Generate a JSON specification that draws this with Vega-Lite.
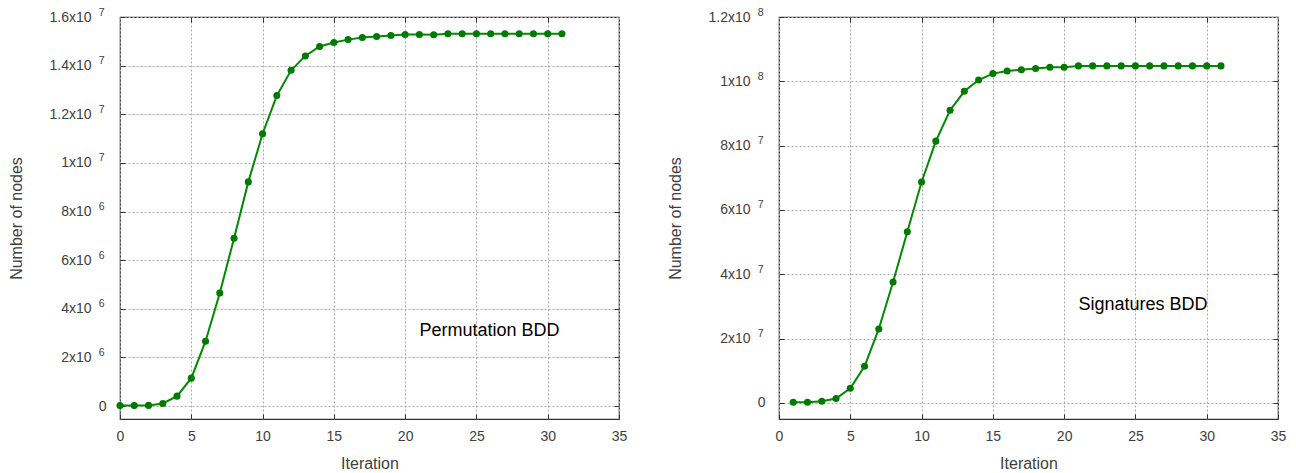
{
  "$schema": "https://vega.github.io/schema/vega-lite/v6.json",
  "padding": {"left": 8, "top": 6, "right": 0, "bottom": 0},
  "autosize": {"type": "pad"},
  "background": "white",
  "spacing": 39,
  "datasets": {
    "perm": [
      {"iteration": 0, "nodes": 20000},
      {"iteration": 1, "nodes": 20000},
      {"iteration": 2, "nodes": 30000},
      {"iteration": 3, "nodes": 110000},
      {"iteration": 4, "nodes": 410000},
      {"iteration": 5, "nodes": 1150000},
      {"iteration": 6, "nodes": 2670000},
      {"iteration": 7, "nodes": 4650000},
      {"iteration": 8, "nodes": 6900000},
      {"iteration": 9, "nodes": 9220000},
      {"iteration": 10, "nodes": 11200000},
      {"iteration": 11, "nodes": 12770000},
      {"iteration": 12, "nodes": 13810000},
      {"iteration": 13, "nodes": 14400000},
      {"iteration": 14, "nodes": 14790000},
      {"iteration": 15, "nodes": 14950000},
      {"iteration": 16, "nodes": 15070000},
      {"iteration": 17, "nodes": 15160000},
      {"iteration": 18, "nodes": 15200000},
      {"iteration": 19, "nodes": 15240000},
      {"iteration": 20, "nodes": 15280000},
      {"iteration": 21, "nodes": 15280000},
      {"iteration": 22, "nodes": 15270000},
      {"iteration": 23, "nodes": 15310000},
      {"iteration": 24, "nodes": 15310000},
      {"iteration": 25, "nodes": 15310000},
      {"iteration": 26, "nodes": 15310000},
      {"iteration": 27, "nodes": 15310000},
      {"iteration": 28, "nodes": 15310000},
      {"iteration": 29, "nodes": 15310000},
      {"iteration": 30, "nodes": 15310000},
      {"iteration": 31, "nodes": 15310000}
    ],
    "sig": [
      {"iteration": 1, "nodes": 200000},
      {"iteration": 2, "nodes": 200000},
      {"iteration": 3, "nodes": 530000},
      {"iteration": 4, "nodes": 1370000},
      {"iteration": 5, "nodes": 4570000},
      {"iteration": 6, "nodes": 11400000},
      {"iteration": 7, "nodes": 23000000},
      {"iteration": 8, "nodes": 37600000},
      {"iteration": 9, "nodes": 53200000},
      {"iteration": 10, "nodes": 68700000},
      {"iteration": 11, "nodes": 81400000},
      {"iteration": 12, "nodes": 91000000},
      {"iteration": 13, "nodes": 96900000},
      {"iteration": 14, "nodes": 100400000},
      {"iteration": 15, "nodes": 102400000},
      {"iteration": 16, "nodes": 103200000},
      {"iteration": 17, "nodes": 103600000},
      {"iteration": 18, "nodes": 104000000},
      {"iteration": 19, "nodes": 104400000},
      {"iteration": 20, "nodes": 104400000},
      {"iteration": 21, "nodes": 104800000},
      {"iteration": 22, "nodes": 104800000},
      {"iteration": 23, "nodes": 104800000},
      {"iteration": 24, "nodes": 104800000},
      {"iteration": 25, "nodes": 104800000},
      {"iteration": 26, "nodes": 104800000},
      {"iteration": 27, "nodes": 104800000},
      {"iteration": 28, "nodes": 104800000},
      {"iteration": 29, "nodes": 104800000},
      {"iteration": 30, "nodes": 104800000},
      {"iteration": 31, "nodes": 104800000}
    ],
    "permLabel": [{"label": "Permutation BDD", "iteration": 21, "nodes": 3100000}],
    "sigLabel": [{"label": "Signatures BDD", "iteration": 21, "nodes": 30500000}]
  },
  "hconcat": [
    {
      "width": 499,
      "height": 402,
      "resolve": {"axis": {"x": "independent", "y": "independent"}},
      "layer": [
        {
          "data": {"name": "perm"},
          "mark": {"type": "line", "color": "#008a00", "strokeWidth": 2},
          "encoding": {
            "x": {"field": "iteration", "type": "quantitative",
                  "scale": {"domain": [0, 35], "nice": false, "zero": false},
                  "axis": {"orient": "bottom", "values": [0, 5, 10, 15, 20, 25, 30, 35], "title": "Iteration"}},
            "y": {"field": "nodes", "type": "quantitative",
                  "scale": {"domain": [-530000, 16000000], "nice": false, "zero": false},
                  "axis": {"orient": "left", "values": [0, 2000000, 4000000, 6000000, 8000000, 10000000, 12000000, 14000000, 16000000],
                           "title": "Number of nodes", "labelPadding": 34, "titlePadding": 24,
                           "labelExpr": "datum.value == 0 ? '' : format(datum.value / pow(10, floor(log(datum.value) / LN10 + 1e-9)), '.2~g') + 'x10'"}}
          }
        },
        {
          "data": {"name": "perm"},
          "mark": {"type": "point", "filled": true, "size": 50, "color": "#007a00", "opacity": 1},
          "encoding": {
            "x": {"field": "iteration", "type": "quantitative",
                  "axis": {"orient": "top", "values": [5, 10, 15, 20, 25, 30], "labels": false, "grid": false, "title": null}},
            "y": {"field": "nodes", "type": "quantitative",
                  "axis": {"orient": "left", "values": [0, 2000000, 4000000, 6000000, 8000000, 10000000, 12000000, 14000000, 16000000],
                           "ticks": false, "grid": false, "title": null,
                           "labelFontSize": {"condition": {"test": "datum.value == 0", "value": 14}, "value": 10.5},
                           "labelOffset": {"condition": {"test": "datum.value == 0", "value": 0}, "value": -5},
                           "labelPadding": {"condition": {"test": "datum.value == 0", "value": 14}, "value": 16},
                           "labelExpr": "datum.value == 0 ? '0' : '' + floor(log(datum.value) / LN10 + 1e-9)"}}
          }
        },
        {
          "data": {"name": "permLabel"},
          "mark": {"type": "text", "align": "left", "baseline": "middle", "fontSize": 18, "color": "#000000"},
          "encoding": {
            "text": {"field": "label"},
            "x": {"field": "iteration", "type": "quantitative", "axis": null},
            "y": {"field": "nodes", "type": "quantitative",
                  "axis": {"orient": "right", "values": [0, 2000000, 4000000, 6000000, 8000000, 10000000, 12000000, 14000000], "labels": false, "grid": false, "title": null}}
          }
        }
      ]
    },
    {
      "width": 499,
      "height": 402,
      "resolve": {"axis": {"x": "independent", "y": "independent"}},
      "layer": [
        {
          "data": {"name": "sig"},
          "mark": {"type": "line", "color": "#008a00", "strokeWidth": 2},
          "encoding": {
            "x": {"field": "iteration", "type": "quantitative",
                  "scale": {"domain": [0, 35], "nice": false, "zero": false},
                  "axis": {"orient": "bottom", "values": [0, 5, 10, 15, 20, 25, 30, 35], "title": "Iteration"}},
            "y": {"field": "nodes", "type": "quantitative",
                  "scale": {"domain": [-5000000, 120000000], "nice": false, "zero": false},
                  "axis": {"orient": "left", "values": [0, 20000000, 40000000, 60000000, 80000000, 100000000, 120000000],
                           "title": "Number of nodes", "labelPadding": 34, "titlePadding": 24,
                           "labelExpr": "datum.value == 0 ? '' : format(datum.value / pow(10, floor(log(datum.value) / LN10 + 1e-9)), '.2~g') + 'x10'"}}
          }
        },
        {
          "data": {"name": "sig"},
          "mark": {"type": "point", "filled": true, "size": 50, "color": "#007a00", "opacity": 1},
          "encoding": {
            "x": {"field": "iteration", "type": "quantitative",
                  "axis": {"orient": "top", "values": [5, 10, 15, 20, 25, 30], "labels": false, "grid": false, "title": null}},
            "y": {"field": "nodes", "type": "quantitative",
                  "axis": {"orient": "left", "values": [0, 20000000, 40000000, 60000000, 80000000, 100000000, 120000000],
                           "ticks": false, "grid": false, "title": null,
                           "labelFontSize": {"condition": {"test": "datum.value == 0", "value": 14}, "value": 10.5},
                           "labelOffset": {"condition": {"test": "datum.value == 0", "value": 0}, "value": -5},
                           "labelPadding": {"condition": {"test": "datum.value == 0", "value": 14}, "value": 16},
                           "labelExpr": "datum.value == 0 ? '0' : '' + floor(log(datum.value) / LN10 + 1e-9)"}}
          }
        },
        {
          "data": {"name": "sigLabel"},
          "mark": {"type": "text", "align": "left", "baseline": "middle", "fontSize": 18, "color": "#000000"},
          "encoding": {
            "text": {"field": "label"},
            "x": {"field": "iteration", "type": "quantitative", "axis": null},
            "y": {"field": "nodes", "type": "quantitative",
                  "axis": {"orient": "right", "values": [0, 20000000, 40000000, 60000000, 80000000, 100000000], "labels": false, "grid": false, "title": null}}
          }
        }
      ]
    }
  ],
  "config": {
    "font": "Liberation Sans",
    "view": {"stroke": "#333333", "strokeWidth": 1.2},
    "axis": {
      "domain": false,
      "grid": true,
      "gridColor": "#a8a8a8",
      "gridDash": [2, 2],
      "gridWidth": 1,
      "ticks": true,
      "tickSize": -5,
      "tickColor": "#333333",
      "labelFont": "Liberation Sans",
      "labelFontSize": 14,
      "labelColor": "#404040",
      "titleFont": "Liberation Sans",
      "titleFontSize": 16,
      "titleFontWeight": "normal",
      "titleColor": "#404040"
    },
    "axisX": {"labelPadding": 15, "titlePadding": 12, "labelFlush": false},
    "axisY": {"labelPadding": 17, "titlePadding": 14}
  }
}
